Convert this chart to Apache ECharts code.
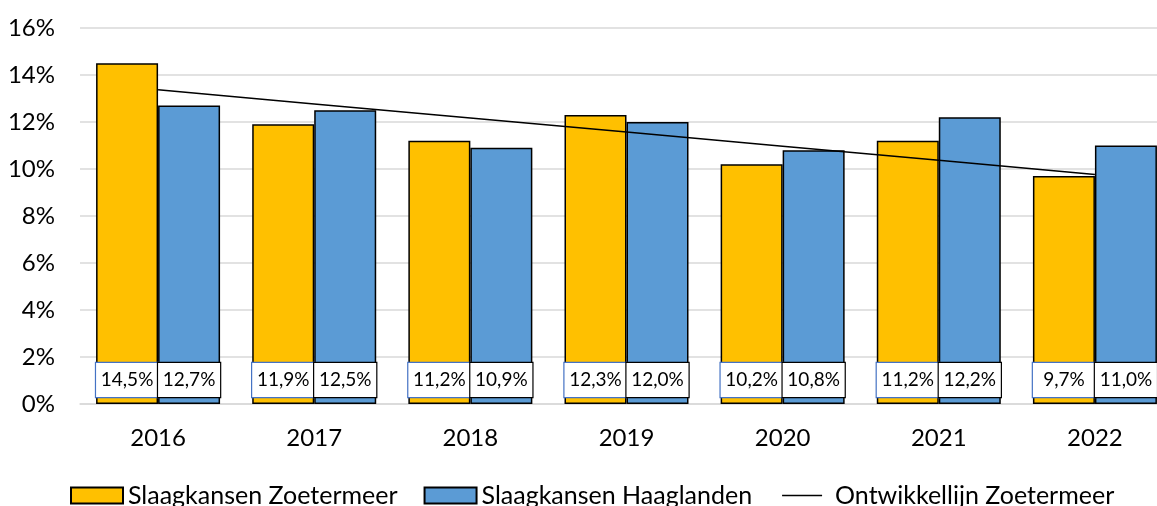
<!DOCTYPE html>
<html>
<head>
<meta charset="utf-8">
<script src="https://cdn.jsdelivr.net/npm/echarts@6/dist/echarts.min.js"></script>
<style>
html,body{margin:0;padding:0;background:#fff;}
#chart{width:1157px;height:506px;}
</style>
</head>
<body>
<div id="chart"></div>
<script>
const years = ['2016','2017','2018','2019','2020','2021','2022'];
const zoetermeer = [14.5, 11.9, 11.2, 12.3, 10.2, 11.2, 9.7];
const haaglanden = [12.7, 12.5, 10.9, 12.0, 10.8, 12.2, 11.0];
const trend = [13.37, 12.77, 12.17, 11.57, 10.97, 10.37, 9.77];
const yTicks = [0, 2, 4, 6, 8, 10, 12, 14, 16];

const FONT = 'Lato';
const fmt = v => v.toFixed(1).replace('.', ',') + '%';

function barLabel(border) {
  return {
    show: true,
    position: 'insideBottom',
    distance: 7,
    formatter: p => fmt(p.value),
    width: 62,
    height: 34,
    lineHeight: 34,
    padding: 0,
    align: 'center',
    backgroundColor: '#fff',
    borderColor: border,
    borderWidth: 1.2,
    color: '#000',
    fontSize: 19,
    fontFamily: FONT
  };
}

const lineIcon = 'path://M0,0 L0.01,0 L0.01,0.01 Z M4,7.3 L44,7.3 L44,8.7 L4,8.7 Z M52,16 L51.99,16 L51.99,15.99 Z';

const chart = echarts.init(document.getElementById('chart'), null, {renderer: 'canvas'});
chart.setOption({
  animation: false,
  textStyle: {fontFamily: FONT},
  grid: {left: 80, top: 28, right: -16, bottom: 102, containLabel: false, outerBoundsMode: 'none'},
  legend: {
    bottom: -7,
    left: 65,
    itemWidth: 52,
    itemHeight: 16,
    itemGap: 26,
    textStyle: {fontSize: 25, color: '#000', fontFamily: FONT},
    data: [
      {name: 'Slaagkansen Zoetermeer', icon: 'rect'},
      {name: 'Slaagkansen Haaglanden', icon: 'rect'},
      {name: 'Ontwikkellijn Zoetermeer', icon: lineIcon, itemStyle: {color: '#000', borderWidth: 0}}
    ]
  },
  xAxis: {
    type: 'category',
    data: years,
    axisLine: {show: true, lineStyle: {color: '#D9D9D9', width: 1.5}},
    axisTick: {show: false},
    axisLabel: {fontSize: 24, color: '#000', margin: 22, fontFamily: FONT}
  },
  yAxis: {
    type: 'value',
    min: yTicks[0],
    max: yTicks[yTicks.length - 1],
    interval: 2,
    axisLine: {show: false},
    axisTick: {show: false},
    splitLine: {lineStyle: {color: '#D9D9D9', width: 1.5}},
    axisLabel: {fontSize: 24, color: '#000', margin: 25, formatter: '{value}%', fontFamily: FONT}
  },
  series: [
    {
      name: 'Slaagkansen Zoetermeer',
      type: 'bar',
      data: zoetermeer,
      barWidth: 62,
      barGap: '0%',
      itemStyle: {color: '#FFC000', borderColor: '#000', borderWidth: 1.5},
      label: barLabel('#4472C4')
    },
    {
      name: 'Slaagkansen Haaglanden',
      type: 'bar',
      data: haaglanden,
      barWidth: 62,
      barGap: '0%',
      itemStyle: {color: '#5B9BD5', borderColor: '#000', borderWidth: 1.5},
      label: barLabel('#000')
    },
    {
      name: 'Ontwikkellijn Zoetermeer',
      type: 'line',
      data: trend,
      symbol: 'none',
      lineStyle: {color: '#000', width: 1.5},
      itemStyle: {color: '#000'},
      z: 3
    }
  ]
});
</script>
</body>
</html>
